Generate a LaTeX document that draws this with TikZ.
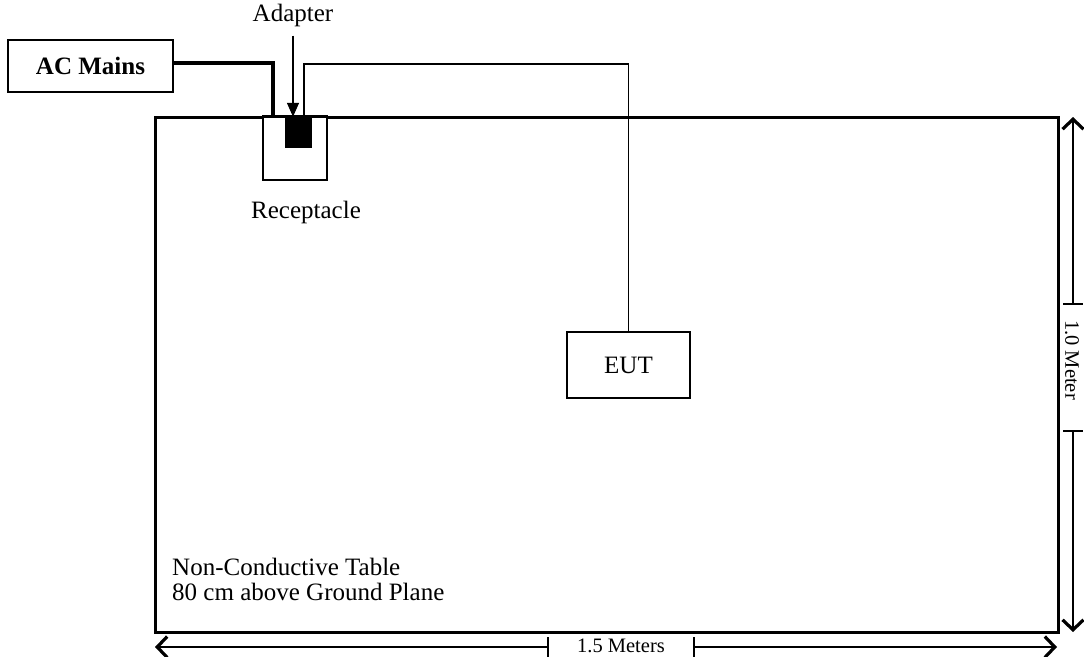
\documentclass[tikz,border=0pt]{standalone}
\usepackage{fontspec}
\setmainfont{Liberation Serif}
\usetikzlibrary{arrows.meta}

\begin{document}
\begin{tikzpicture}[x=1pt, y=-1pt, line join=miter,
  box/.style={draw, line width=1.6pt, inner sep=0pt, font=\fontsize{25}{30}\selectfont},
  lbl/.style={inner sep=0pt, font=\fontsize{25}{30}\selectfont},
  dimarrow/.style={line width=1.3pt, -{Straight Barb[length=10pt,width=21pt,line width=3.2pt]}},
  dimtick/.style={line width=1.3pt},
  dimtext/.style={inner sep=0pt, font=\fontsize{20.5}{24}\selectfont}]

  %% ════ 桌面（外框）════
  \node[draw, line width=3pt, inner sep=0pt, minimum width=903pt, minimum height=515pt] (table) at (606.5,374.5) {};
  \node[lbl, anchor=north west, align=left, font=\fontsize{25}{24.5}\selectfont] (tabletext) at (172,558)
    {Non-Conductive Table\\80 cm above Ground Plane};

  %% ════ 插座 + 适配器 ════
  \node[box, fill=white, minimum width=64pt, minimum height=63pt] (recept) at (295,148.5) {};
  \draw[line width=3pt] (recept.north west) -- (recept.north east);   % 桌边压在插座顶上
  \node[fill=black, inner sep=0pt, minimum width=27pt, minimum height=31pt] (adapter) at (298.5,132.5) {};
  \node[lbl, anchor=base] (recepttext) at (306,218) {Receptacle};
  \node[lbl] (adaptertext) at (293,15) {Adapter};
  \draw[line width=1.3pt, shorten <=9pt, -{Triangle[length=14pt,width=12pt]}]
    (adaptertext.south) -- (adaptertext.south |- adapter.north);

  %% ════ 电源 / EUT ════
  \node[box, minimum width=165pt, minimum height=52pt, font=\fontsize{25}{30}\selectfont\bfseries] (mains) at (90.5,66) {AC Mains};
  \node[box, minimum width=123pt, minimum height=66pt] (eut) at (628.5,365) {EUT};

  \coordinate (plug) at (273,117);
  \coordinate (outlet) at (304,117);
  \draw[line width=3.5pt] (mains.east) ++(0,-3) -| (plug);
  \draw[line width=1.5pt] (outlet) -- ++(0,-53) -| (eut.north);

  %% ════ 尺寸线（底部 1.5 m）════
  \coordinate (wl) at (155,647);
  \coordinate (wr) at (1057,647);
  \coordinate (wt1) at (548,647);
  \coordinate (wt2) at (694,647);
  \draw[dimarrow] (wt1) -- (wl);
  \draw[dimarrow] (wt2) -- (wr);
  \draw[dimtick] (wt1) ++(0,-10) -- ++(0,20);
  \draw[dimtick] (wt2) ++(0,-10) -- ++(0,20);
  \node[dimtext] (wlab) at (621,646) {1.5 Meters};

  %% ════ 尺寸线（右侧 1.0 m）════
  \coordinate (ht) at (1073,117);
  \coordinate (hb) at (1073,632);
  \coordinate (ht1) at (1073,304);
  \coordinate (ht2) at (1073,431);
  \draw[dimarrow] (ht1) -- (ht);
  \draw[dimarrow] (ht2) -- (hb);
  \draw[dimtick] (ht1) ++(-10,0) -- ++(20,0);
  \draw[dimtick] (ht2) ++(-10,0) -- ++(20,0);
  \node[dimtext, rotate=-90] (hlab) at (1072,360) {1.0 Meter};

  % 钉死画布
  \pgfresetboundingbox
  \path[use as bounding box] (0,0) rectangle (1084,656);
\end{tikzpicture}
\end{document}
